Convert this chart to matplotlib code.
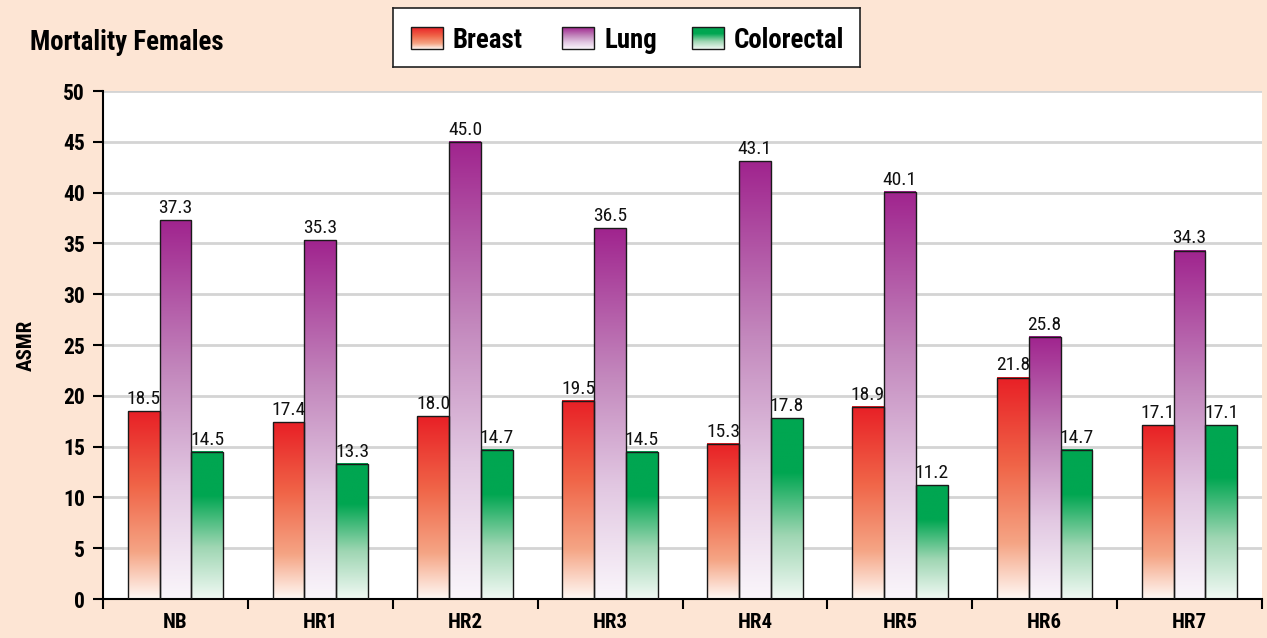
import numpy as np
import matplotlib.pyplot as plt
from matplotlib import font_manager
from matplotlib.colors import LinearSegmentedColormap
from matplotlib.patches import Rectangle


def pick_family():
    names = {f.name for f in font_manager.fontManager.ttflist}
    for cand in ['Liberation Sans Narrow', 'Roboto Condensed', 'Open Sans Condensed',
                 'Noto Sans Condensed', 'DejaVu Sans Condensed']:
        if cand in names:
            return cand, 'normal'
    for f in font_manager.fontManager.ttflist:
        if f.name == 'DejaVu Sans' and f.stretch in ('condensed', 'semi-condensed'):
            return 'DejaVu Sans', 'condensed'
    return 'Roboto', 'normal'


FAMILY, STRETCH = pick_family()
plt.rcParams['font.family'] = [FAMILY, 'DejaVu Sans']
plt.rcParams['font.stretch'] = STRETCH

# ---- data ----
regions = ['NB', 'HR1', 'HR2', 'HR3', 'HR4', 'HR5', 'HR6', 'HR7']
series = ['Breast', 'Lung', 'Colorectal']
breast = [18.5, 17.4, 18.0, 19.5, 15.3, 18.9, 21.8, 17.1]
lung = [37.3, 35.3, 45.0, 36.5, 43.1, 40.1, 25.8, 34.3]
colorectal = [14.5, 13.3, 14.7, 14.5, 17.8, 11.2, 14.7, 17.1]
yticks = list(range(0, 55, 5))

# gradient colour ramps, bottom -> top
ramps = {
    'Breast': [(0.0, '#fff8f4'), (0.25, '#f5a585'), (0.6, '#f06548'), (1.0, '#e82026')],
    'Lung': [(0.0, '#faf6fb'), (0.3, '#e2c8e2'), (0.6, '#c388bd'), (1.0, '#a0248e')],
    'Colorectal': [(0.0, '#f1f9f4'), (0.35, '#9fd6b3'), (0.7, '#00a651'), (1.0, '#00a651')],
}
cmaps = {k: LinearSegmentedColormap.from_list(k, v) for k, v in ramps.items()}
grad = np.linspace(0, 1, 256).reshape(-1, 1)

bg = '#fde5d4'
fig = plt.figure(figsize=(12.67, 6.38), dpi=100, facecolor=bg)
ax = fig.add_axes([103/1267, 1-599/638, 1159/1267, 508/638])
ax.set_facecolor('white')

bw = 0.22
offsets = [-bw, 0, bw]
for s, vals, off in zip(series, [breast, lung, colorectal], offsets):
    for i, v in enumerate(vals):
        xc = i + 0.5 + off
        x0 = xc - bw / 2
        ax.imshow(grad, extent=[x0, x0 + bw, 0, v], origin='lower',
                  cmap=cmaps[s], aspect='auto', zorder=2, interpolation='bilinear')
        ax.add_patch(Rectangle((x0, 0), bw, v, facecolor='none',
                               edgecolor='#1a1a1a', linewidth=1.0, zorder=3))
        ax.text(xc, v + 0.3, f'{v:.1f}', ha='center', va='bottom',
                fontsize=14, color='#111111', zorder=4)
ax.set_xlim(0, len(regions))
ax.set_ylim(0, 50)

# grid and axes
ax.set_yticks(yticks)
ax.yaxis.grid(True, color='#d4d4d4', linewidth=2.0, zorder=0)
ax.set_axisbelow(True)
ax.set_xticks(np.arange(len(regions) + 1))
ax.set_xticklabels([])
ax.set_xticks(np.arange(len(regions)) + 0.5, minor=True)
ax.set_xticklabels(regions, minor=True, fontsize=15, fontweight='bold')
ax.tick_params(axis='x', which='minor', length=0, pad=10)
ax.tick_params(axis='x', which='major', length=7, width=1.5, direction='out')
ax.tick_params(axis='y', length=7, width=1.5, direction='out', pad=6,
               labelsize=15.5)
for lab in ax.get_yticklabels():
    lab.set_fontweight('bold')
for side in ['top', 'right']:
    ax.spines[side].set_visible(False)
ax.spines['left'].set_linewidth(1.5)
ax.spines['bottom'].set_linewidth(1.5)
ax.set_ylabel('ASMR', fontsize=15, fontweight='bold', labelpad=20)

fig.text(30/1267, 1-42/638, 'Mortality Females', fontsize=19.4, fontweight='bold',
         va='center', ha='left')

# legend box with gradient swatches
lax = fig.add_axes([393/1267, 1-67/638, 467/1267, 59/638])
lax.set_xticks([])
lax.set_yticks([])
lax.set_facecolor('white')
for sp in lax.spines.values():
    sp.set_linewidth(1.2)
    sp.set_color('#222222')
swatch_x = [411, 562, 692]
for s, sx in zip(series, swatch_x):
    lax.imshow(grad, extent=[sx, sx + 32, 49, 27], origin='lower',
               cmap=cmaps[s], aspect='auto', interpolation='bilinear')
    lax.add_patch(Rectangle((sx, 27), 32, 22, facecolor='none',
                            edgecolor='#1a1a1a', linewidth=1.0))
    lax.text(sx + 42, 40, s, fontsize=19.4, fontweight='bold', va='center', ha='left')
lax.set_xlim(393, 860)
lax.set_ylim(67, 8)

fig.savefig('out.png', dpi=100, facecolor=bg)
